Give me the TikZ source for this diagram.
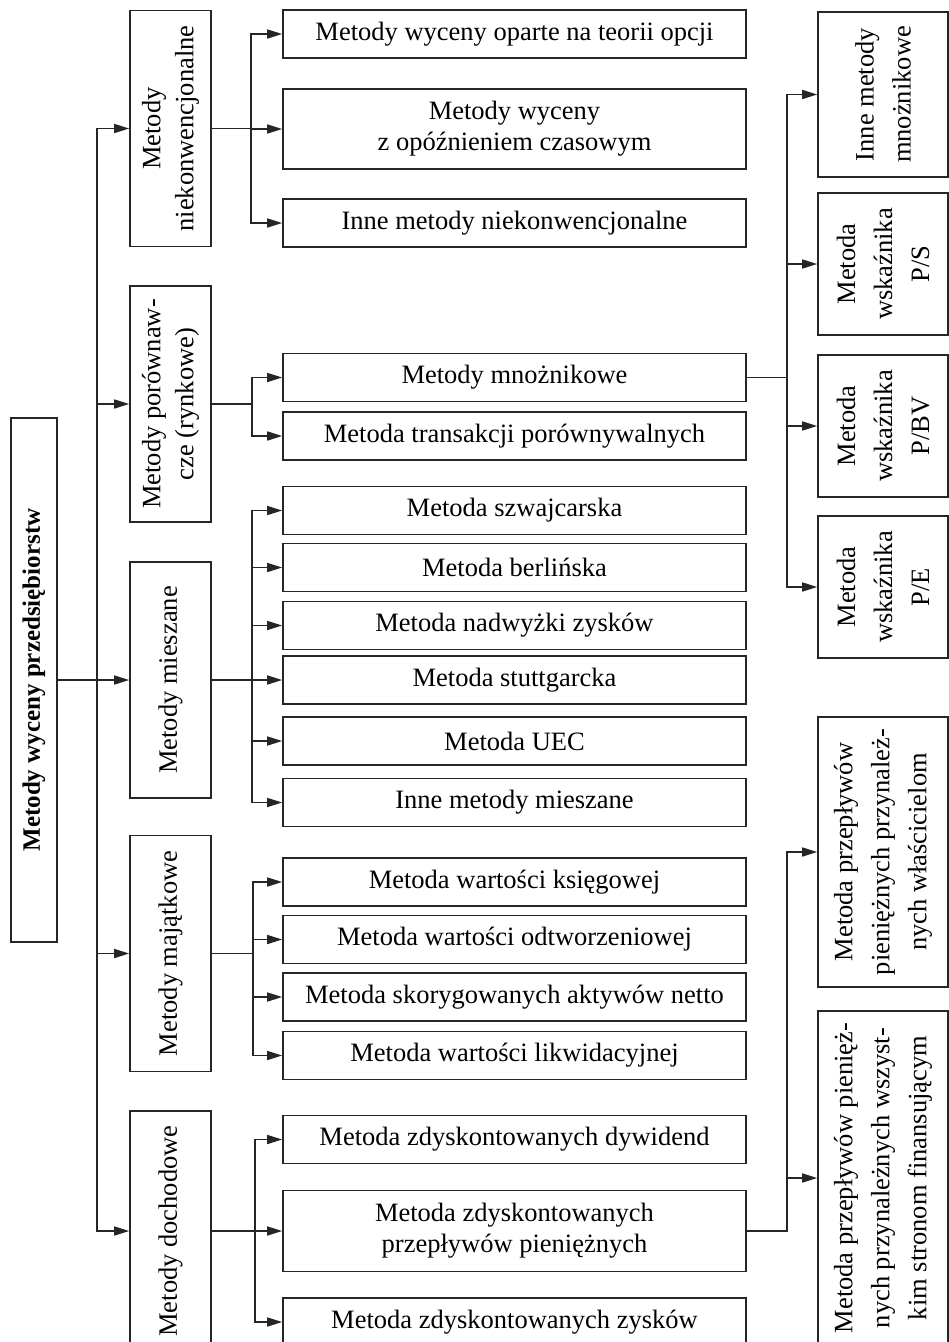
\documentclass[tikz,border=0pt]{standalone}
\usepackage{fontspec}
\setmainfont{Liberation Serif}
\usetikzlibrary{arrows.meta, positioning, calc}

\begin{document}
\begin{tikzpicture}[x=1pt, y=-1pt, >={Triangle[length=15pt,width=9pt]},
  every node/.style={font=\fontsize{26.5}{31}\selectfont},
  box/.style={draw=black!85, line width=1.6pt, inner sep=0pt, align=center},
  wide/.style={box, minimum width=463pt, minimum height=48pt},
  tall/.style={box, rotate=90, minimum width=236pt, minimum height=81pt,
    font=\fontsize{26.5}{33}\selectfont},
  side/.style={box, rotate=90, minimum height=130pt,
    font=\fontsize{26.5}{37}\selectfont},
  conn/.style={draw=black!85, line width=1.6pt, ->}]
  \useasboundingbox (0,0) rectangle (949,1342);
  \clip (0,0) rectangle (949,1342);
  \node[box, rotate=90, minimum width=524pt, minimum height=46pt,
    font=\fontsize{25}{31}\selectfont\bfseries] (root) at (34,680) {Metody wyceny przedsiębiorstw};
  \node[tall] (nk) at (170.5,128.5) {Metody\\niekonwencjonalne};
  \node[tall] (por) at (170.5,404) {Metody porównaw-\\cze (rynkowe)};
  \node[tall] (mie) at (170.5,680) {Metody mieszane};
  \node[tall] (maj) at (170.5,953.5) {Metody majątkowe};
  \node[tall, minimum width=240pt] (doch) at (170.5,1231) {Metody dochodowe};
  \node[wide] (nk1) at (514.5,34) {Metody wyceny oparte na teorii opcji};
  \node[wide, minimum height=80pt] (nk2) at (514.5,129) {Metody wyceny\\z opóźnieniem czasowym};
  \node[wide] (nk3) at (514.5,223) {Inne metody niekonwencjonalne};
  \node[wide] (por1) at (514.5,377.5) {Metody mnożnikowe};
  \node[wide] (por2) at (514.5,436) {Metoda transakcji porównywalnych};
  \node[wide] (mie1) at (514.5,510.5) {Metoda szwajcarska};
  \node[wide] (mie2) at (514.5,567.5) {Metoda berlińska};
  \node[wide] (mie3) at (514.5,625.5) {Metoda nadwyżki zysków};
  \node[wide] (mie4) at (514.5,680) {Metoda stuttgarcka};
  \node[wide] (mie5) at (514.5,741) {Metoda UEC};
  \node[wide] (mie6) at (514.5,802.5) {Inne metody mieszane};
  \node[wide] (maj1) at (514.5,882) {Metoda wartości księgowej};
  \node[wide] (maj2) at (514.5,939.5) {Metoda wartości odtworzeniowej};
  \node[wide] (maj3) at (514.5,997) {Metoda skorygowanych aktywów netto};
  \node[wide] (maj4) at (514.5,1055.5) {Metoda wartości likwidacyjnej};
  \node[wide] (doch1) at (514.5,1139.5) {Metoda zdyskontowanych dywidend};
  \node[wide, minimum height=81pt] (doch2) at (514.5,1231) {Metoda zdyskontowanych\\przepływów pieniężnych};
  \node[wide] (doch3) at (514.5,1322) {Metoda zdyskontowanych zysków};
  \node[side, minimum width=165pt] (r1) at (883,94.5) {Inne metody\\mnożnikowe};
  \node[side, minimum width=142pt] (r2) at (883,264) {Metoda\\wskaźnika\\P/S};
  \node[side, minimum width=142pt] (r3) at (883,426) {Metoda\\wskaźnika\\P/BV};
  \node[side, minimum width=142pt] (r4) at (883,587) {Metoda\\wskaźnika\\P/E};
  \node[side, minimum width=270pt] (r5) at (883,852) {Metoda przepływów\\pieniężnych przynależ-\\nych właścicielom};
  \node[side, minimum width=334pt] (r6) at (883,1178) {Metoda przepływów pienięż-\\nych przynależnych wszyst-\\kim stronom finansującym};
  \foreach \n in {nk,por,mie,maj,doch}
    \draw[conn] (root.south) -- ++(39,0) |- (\n.north);
  \foreach \c in {nk1,nk2,nk3}
    \draw[conn] (nk.south) -- ++(39,0) |- (\c.west);
  \foreach \c in {por1,por2}
    \draw[conn] (por.south) -- ++(40,0) |- (\c.west);
  \foreach \c in {mie1,mie2,mie3,mie4,mie5,mie6}
    \draw[conn] (mie.south) -- ++(40,0) |- (\c.west);
  \foreach \c in {maj1,maj2,maj3,maj4}
    \draw[conn] (maj.south) -- ++(41,0) |- (\c.west);
  \foreach \c in {doch1,doch2,doch3}
    \draw[conn] (doch.south) -- ++(43,0) |- (\c.west);
  \foreach \c in {r1,r2,r3,r4}
    \draw[conn] (por1.east) -- ++(40,0) |- (\c.north);
  \foreach \c in {r5,r6}
    \draw[conn] (doch2.east) -- ++(40,0) |- (\c.north);
\end{tikzpicture}
\end{document}
